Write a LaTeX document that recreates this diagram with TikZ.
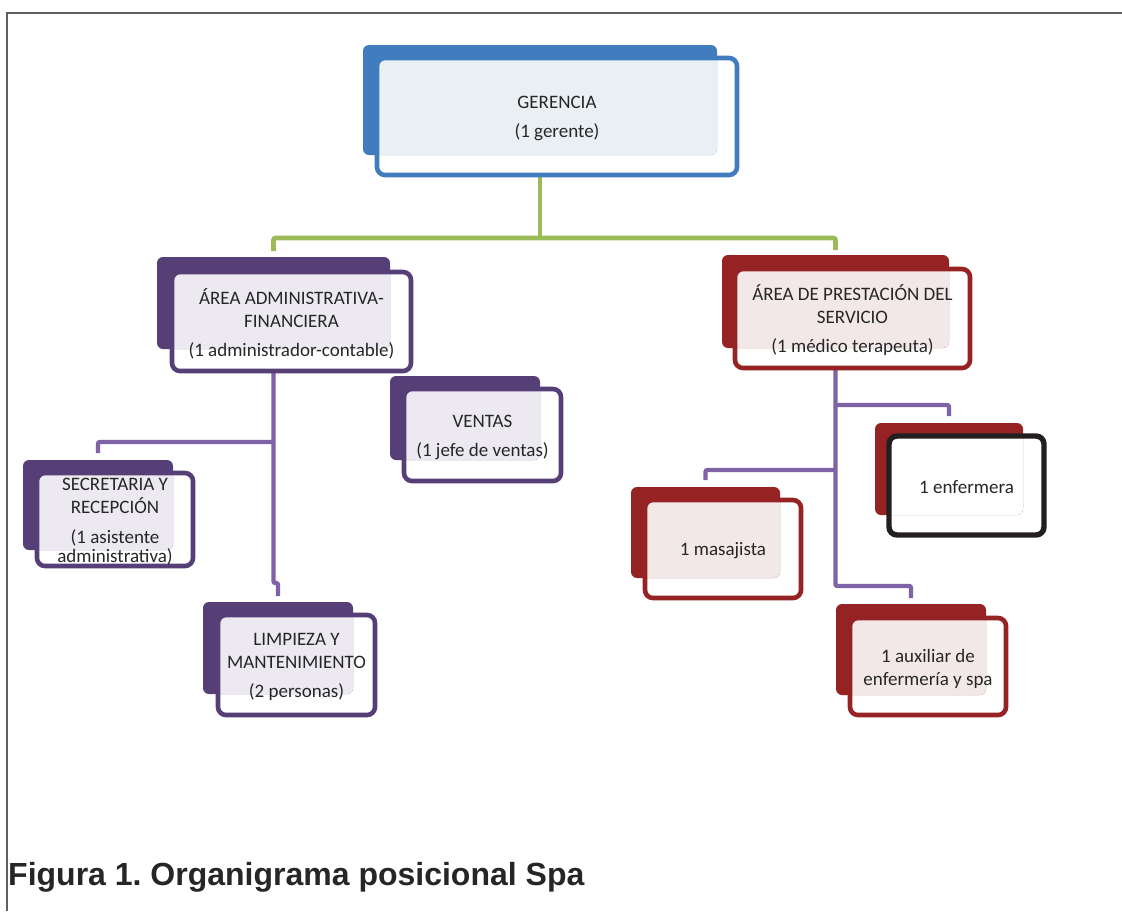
\documentclass[tikz,border=0pt]{standalone}
\usepackage{fontspec}
\newfontfamily\boxfont{Carlito}
\newfontfamily\capfont{Liberation Sans}
\usetikzlibrary{fit}

% palettes: dark back panel (-dk) and pale face (-lt)
\definecolor{blu-dk}{RGB}{65,125,190}
\definecolor{blu-lt}{RGB}{234,239,244}
\definecolor{pur-dk}{RGB}{86,63,119}
\definecolor{pur-lt}{RGB}{236,234,240}
\definecolor{red-dk}{RGB}{150,35,35}
\definecolor{red-lt}{RGB}{243,232,232}
\definecolor{enf-dk}{RGB}{150,35,35}
\definecolor{enf-lt}{RGB}{255,255,255}
\definecolor{ink}{RGB}{38,38,38}
\definecolor{edgeblack}{RGB}{35,31,32}
\definecolor{gline}{RGB}{155,187,89}
\definecolor{pline}{RGB}{128,98,166}
\definecolor{pageline}{RGB}{95,95,95}

\pgfdeclarelayer{wires}
\pgfsetlayers{wires,main}

\tikzset{
  backbox/.style={rectangle, rounded corners=6pt, inner sep=0pt, outer sep=0pt, draw=none},
  framebox/.style={rectangle, rounded corners=8pt, inner sep=0pt, outer sep=0pt,
    line width=4.6pt},
  boxtext/.style={inner sep=0pt, align=center, text=ink,
    font=\boxfont\fontsize{19}{23}\selectfont},
  gconn/.style={draw=gline, line width=4.6pt, rounded corners=2pt},
  pconn/.style={draw=pline, line width=4.4pt, rounded corners=2pt},
}

% one unit of the chart: dark back panel, pale face, outlined frame with text
% #1 name, #2 palette, #3/#4 back panel corners, #5/#6 frame corners,
% #7 frame options, #8 text
\newcommand\orgunit[8]{%
  \node[backbox, fill=#2-dk, fit={(#3) (#4)}] (#1-b) {};
  \begin{scope}
    \clip[rounded corners=8pt] (#5) rectangle (#6);
    \fill[#2-lt, rounded corners=6pt] (#3) rectangle (#4);
  \end{scope}
  \node[framebox, #7, fit={(#5) (#6)}] (#1) {};
  \node[boxtext] (#1-t) at ([yshift=-2pt]#1.center) {#8};
}

\begin{document}
\frenchspacing
\begin{tikzpicture}[x=1pt, y=-1pt]
\useasboundingbox (0,0) rectangle (1122,911);

% page rule
\coordinate (pg-bl) at (7,911);
\coordinate (pg-tl) at (7,13);
\coordinate (pg-tr) at (1122,13);
\draw[pageline, line width=1.2pt] (pg-bl) -- (pg-tl) -- (pg-tr);

\orgunit{ger}{blu}{363,45}{717,155}{377,58}{737,175}{draw=blu-dk}
  {GERENCIA\\[6pt](1 gerente)}
\orgunit{adm}{pur}{157,257}{390,349}{172,272}{411,371}{draw=pur-dk}
  {ÁREA ADMINISTRATIVA-\\FINANCIERA\\[6pt](1 administrador-contable)}
\orgunit{srv}{red}{722,255}{949,348}{735,269}{970,368}{draw=red-dk}
  {ÁREA DE PRESTACIÓN DEL\\SERVICIO\\[6pt](1 médico terapeuta)}
\orgunit{ven}{pur}{390,376}{540,460}{404,389}{561,481}{draw=pur-dk}
  {VENTAS\\[6pt](1 jefe de ventas)}
\orgunit{sec}{pur}{23,460}{173,550}{37,473}{193,566}{draw=pur-dk}
  {SECRETARIA Y\\RECEPCIÓN\\[7pt](1 asistente\\[-4pt]administrativa)}
\orgunit{lim}{pur}{203,602}{353,694}{218,615}{375,715}{draw=pur-dk}
  {LIMPIEZA Y\\MANTENIMIENTO\\[6pt](2 personas)}
\orgunit{enf}{enf}{875,423}{1023,515}{889,436}{1044,535}{draw=edgeblack, line width=5.4pt}
  {1 enfermera}
\orgunit{mas}{red}{631,487}{780,578}{645,500}{801,598}{draw=red-dk}
  {1 masajista}
\orgunit{aux}{red}{836,604}{986,695}{850,618}{1006,715}{draw=red-dk}
  {1 auxiliar de\\enfermería y spa}

\begin{pgfonlayer}{wires}
  % management to the two areas
  \draw[gconn] (ger-b.south |- ger.south) -- (ger-b.south |- 0,238);
  \draw[gconn, shorten <=6pt, shorten >=5pt]
    (adm-b.north) |- (srv-b.north |- 0,238) -- (srv-b.north);
  % administrative area
  \draw[pconn, shorten >=6pt]
    (adm-b.south |- adm.south) -- (adm-b.south |- 0,583) -| (lim-b.north);
  \draw[pconn, shorten >=7pt] (adm-b.south |- 0,442) -| (sec-b.north);
  % service area
  \draw[pconn, shorten >=6pt]
    (srv-b.south |- srv.south) -- (srv-b.south |- 0,586) -| (aux-b.north);
  \draw[pconn, shorten >=7pt] (srv-b.south |- 0,405) -| (enf-b.north);
  \draw[pconn, shorten >=7pt] (srv-b.south |- 0,470) -| (mas-b.north);
\end{pgfonlayer}

\node[anchor=base west, inner sep=0pt, text=ink,
  font=\capfont\bfseries\fontsize{32}{32}\selectfont]
  (cap) at (8,885) {Figura 1. Organigrama posicional Spa};
\end{tikzpicture}
\end{document}
